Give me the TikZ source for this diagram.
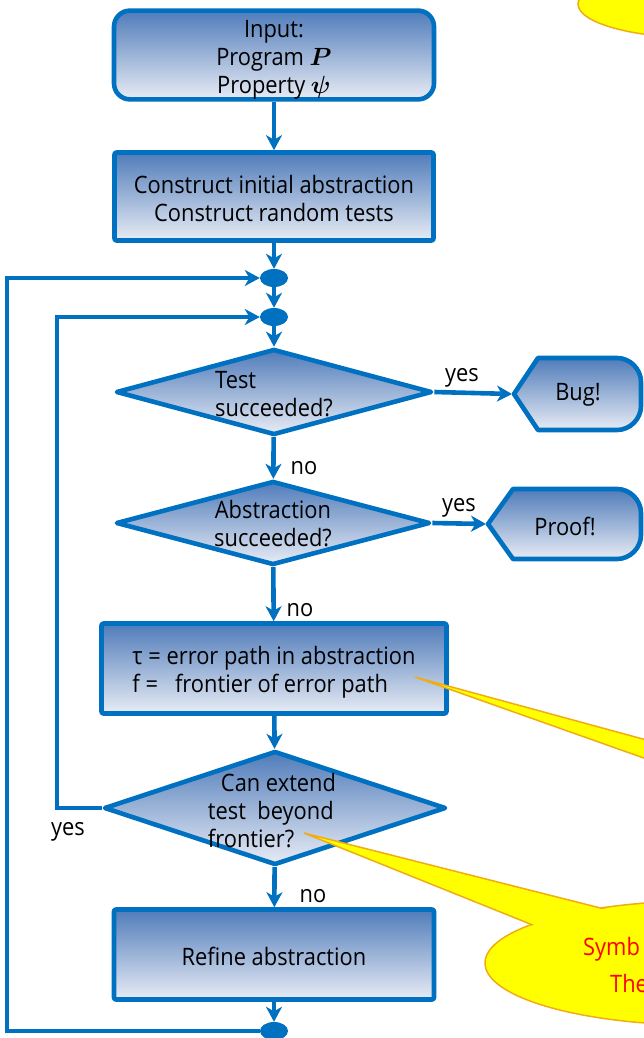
\documentclass[tikz,border=0pt]{standalone}
\usepackage{fontspec}
\usepackage{bm}
\setmainfont{Open Sans}[FakeStretch=0.91]
\usetikzlibrary{shapes.geometric,arrows.meta}

\definecolor{flowblue}{RGB}{0,112,192}
\definecolor{shadetop}{RGB}{80,124,186}
\definecolor{shadebot}{RGB}{232,236,245}
\definecolor{callfill}{RGB}{255,255,0}
\definecolor{callline}{RGB}{240,172,20}
\definecolor{calltext}{RGB}{255,0,0}

\begin{document}
\begin{tikzpicture}[x=1pt,y=-1pt,
  txt/.style={font=\fontsize{24}{28}\selectfont, inner sep=0pt},
  flow/.style={txt, draw=flowblue, line width=4.6pt, line join=round, top color=shadetop, bottom color=shadebot},
  procbox/.style={flow, rectangle, rounded corners=2pt, align=center},
  decision/.style={flow, diamond},
  junction/.style={ellipse, fill=flowblue, minimum width=28pt, minimum height=18pt, inner sep=0pt},
  link/.style={draw=flowblue, line width=4.6pt, -{Stealth[length=15pt,width=16pt,inset=4.5pt]}},
  answer/.style={txt},
  balloon/.style={fill=callfill, draw=callline, line width=1.5pt},
]
\useasboundingbox (0,0) rectangle (644,1038);
\clip (0,0) rectangle (644,1038);

% process boxes (the struts push each text block slightly down)
\node[procbox, rounded corners=16pt, minimum width=320pt, minimum height=88pt]
  (input) at (274,55) {\rule{0pt}{27pt}Input:\\Program $\bm{P}$\\Property $\bm{\psi}$};
\node[procbox, minimum width=319pt, minimum height=88pt]
  (init) at (274,196.5) {\rule{0pt}{21.5pt}Construct initial abstraction\\Construct random tests};
\node[procbox, align=left, minimum width=345pt, minimum height=90pt]
  (cex) at (274,668.5) {\rule{0pt}{26pt}τ = error path in abstraction\\f = \ \ frontier of error path};
\node[procbox, minimum width=320pt, minimum height=90pt]
  (refine) at (274,954.5) {\rule{0pt}{22.5pt}Refine abstraction};

% decisions
\node[decision, minimum width=316pt, minimum height=86pt] (d1) at (274,392) {};
\node[decision, minimum width=314pt, minimum height=84pt] (d2) at (273,523) {};
\node[decision, minimum width=342pt, minimum height=114pt] (d3) at (275,808) {};
\node[txt, align=left] (d1t) at (274,394) {Test\\succeeded?};
\node[txt, align=center] (d2t) at (273,524) {Abstraction\\succeeded?};
\node[txt, align=left] (d3t) at (272,811) {\hspace*{13pt}Can extend\\test\ \ beyond\\frontier?};

% merge points
\node[junction] (j1) at (274,278) {};
\node[junction] (j2) at (274,317) {};
\node[junction] (j3) at (274,1031) {};

% outcomes
\path[flow] (514,394) -- (538,358) -- (617,358)
  .. controls (630,358) and (641,369) .. (641,382) -- (641,406)
  .. controls (641,419) and (630,430) .. (617,430) -- (538,430) -- cycle;
\coordinate (bugtip) at (512,394);
\node[txt] (bug) at (578,395) {Bug!};
\path[flow] (488,524) -- (513,489) -- (617,489)
  .. controls (630,489) and (641,500) .. (641,513) -- (641,535)
  .. controls (641,548) and (630,559) .. (617,559) -- (513,559) -- cycle;
\coordinate (prooftip) at (486,524);
\node[txt] (proof) at (565,526) {Proof!};

% main flow
\draw[link] (input) -- (init);
\draw[link] (init) -- (j1);
\draw[link] (j1) -- (j2);
\draw[link] (j2) -- (d1);
\draw[link] (d1) -- (d2);
\draw[link] (d2) -- (cex);
\draw[link] (cex) -- (d3);
\draw[link] (d3) -- (refine);
\draw[link] (refine) -- (j3);
\draw[link] (d1.east) -- (bugtip);
\draw[link] (d2.east) -- (prooftip);

% feedback loops
\draw[link] (j3.west) -- (7,1031) -- (7,278) -- (j1.west);
\draw[link] (d3.west) -- (57,808) -- (57,317) -- (j2.west);

% branch labels
\node[answer] (y1) at (462,378) {yes};
\node[answer] (n1) at (304,468) {no};
\node[answer] (y2) at (459,508) {yes};
\node[answer] (n2) at (300,610) {no};
\node[answer] (y3) at (68,832) {yes};
\node[answer] (n3) at (313,896) {no};

% callouts
\fill[balloon] (700,4) ellipse [x radius=122, y radius=34];
\fill[balloon] (415,677) -- (720,760) -- (720,785) -- cycle;
\fill[balloon] (700,963) ellipse [x radius=215, y radius=62];
\fill[balloon] (304,833) -- (640,918) -- (560,936) -- cycle;
\fill[callfill] (700,963) ellipse [x radius=213.5, y radius=60.5];
\node[txt, text=calltext, anchor=west] (s1) at (583,949) {Symb};
\node[txt, text=calltext, anchor=west] (s2) at (610,983) {The};
\end{tikzpicture}
\end{document}
